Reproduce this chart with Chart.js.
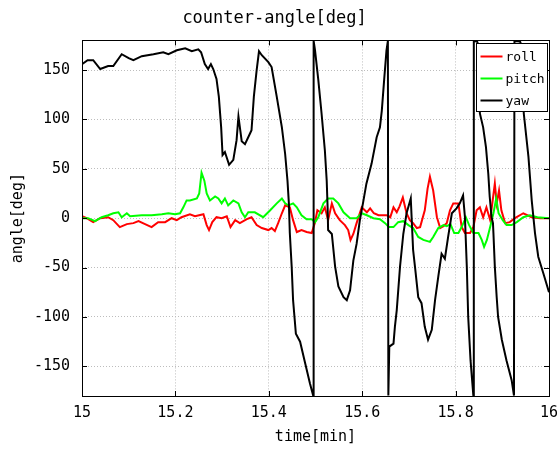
<!DOCTYPE html>
<html>
<head>
<meta charset="utf-8">
<script src="https://cdn.jsdelivr.net/npm/chart.js@4"></script>
<style>
  html, body { margin:0; padding:0; background:#fff; }
  canvas { display:block; }
</style>
</head>
<body>
<canvas id="chart" width="557" height="450"></canvas>
<script>
// ── Data (time in minutes, angles in degrees) ─────────────────
const xTicks = [15, 15.2, 15.4, 15.6, 15.8, 16];
const yTicks = [-150, -100, -50, 0, 50, 100, 150];

const rollT = [15.000,15.010,15.024,15.039,15.056,15.067,15.081,15.096,15.110,15.121,15.135,15.149,15.163,15.178,15.192,15.203,15.213,15.231,15.242,15.260,15.267,15.272,15.279,15.288,15.299,15.310,15.318,15.328,15.338,15.353,15.363,15.374,15.385,15.399,15.406,15.413,15.420,15.428,15.435,15.445,15.452,15.460,15.470,15.481,15.492,15.499,15.504,15.513,15.520,15.527,15.535,15.542,15.552,15.563,15.570,15.575,15.581,15.588,15.599,15.610,15.617,15.625,15.635,15.652,15.660,15.667,15.674,15.680,15.687,15.695,15.702,15.709,15.717,15.724,15.734,15.740,15.745,15.752,15.760,15.767,15.774,15.781,15.788,15.795,15.806,15.813,15.820,15.831,15.838,15.845,15.852,15.859,15.866,15.874,15.884,15.888,15.893,15.898,15.906,15.916,15.927,15.945,15.963,15.981,16.000];
const rollDeg = [2,0,-4,0,1,-2,-9,-6,-5,-3,-6,-9,-4,-4,0,-2,1,4,2,4,-7,-12,-4,1,0,2,-9,-2,-5,-1,1,-7,-10,-12,-10,-13,-5,5,13,11,-2,-14,-12,-14,-15,-4,8,5,11,-2,15,5,-2,-7,-12,-22,-16,-5,11,6,10,5,3,3,1,11,6,12,21,5,-2,-5,-10,-9,8,30,42,28,1,-10,-8,-5,8,15,15,-9,-15,-15,-9,8,11,1,11,-2,35,15,28,8,-5,-4,0,5,1,0,0];

const pitchT = [15.000,15.013,15.028,15.042,15.056,15.067,15.078,15.085,15.096,15.103,15.128,15.149,15.171,15.185,15.199,15.210,15.217,15.224,15.231,15.246,15.251,15.256,15.262,15.267,15.274,15.285,15.292,15.299,15.306,15.313,15.324,15.335,15.342,15.349,15.356,15.370,15.388,15.403,15.417,15.428,15.435,15.442,15.452,15.460,15.470,15.481,15.492,15.499,15.506,15.517,15.527,15.538,15.549,15.560,15.574,15.588,15.599,15.610,15.624,15.638,15.649,15.657,15.667,15.677,15.688,15.699,15.709,15.720,15.731,15.745,15.752,15.763,15.774,15.781,15.789,15.797,15.806,15.813,15.822,15.829,15.838,15.849,15.856,15.861,15.867,15.874,15.881,15.887,15.892,15.901,15.909,15.920,15.931,15.945,15.959,15.975,16.000];
const pitchDeg = [0,0,-3,1,3,5,6,1,5,2,3,3,4,5,4,5,11,18,18,20,25,46,38,25,18,22,20,15,20,13,18,15,6,1,6,6,1,8,15,20,15,13,15,11,3,-1,-1,-4,1,15,20,20,15,6,0,0,5,3,0,-1,-5,-9,-9,-4,-3,-7,-10,-19,-22,-24,-19,-10,-7,-8,-6,-15,-15,-9,1,-7,-15,-15,-22,-29,-22,-9,5,20,5,-2,-7,-7,-4,1,3,1,0];

const yawT = [15.000,15.012,15.024,15.039,15.056,15.067,15.085,15.100,15.110,15.128,15.153,15.174,15.185,15.203,15.221,15.235,15.249,15.255,15.263,15.270,15.276,15.281,15.288,15.293,15.298,15.301,15.306,15.315,15.324,15.331,15.335,15.342,15.349,15.360,15.363,15.368,15.374,15.379,15.385,15.399,15.406,15.417,15.428,15.435,15.440,15.443,15.445,15.449,15.452,15.458,15.467,15.478,15.488,15.495,15.496,15.499,15.506,15.513,15.520,15.524,15.526,15.527,15.535,15.542,15.549,15.560,15.567,15.574,15.581,15.588,15.595,15.602,15.609,15.620,15.631,15.638,15.642,15.647,15.652,15.655,15.656,15.658,15.667,15.670,15.674,15.681,15.688,15.695,15.704,15.709,15.713,15.720,15.727,15.734,15.741,15.749,15.756,15.763,15.770,15.777,15.784,15.792,15.802,15.809,15.816,15.820,15.824,15.827,15.832,15.838,15.839,15.846,15.849,15.852,15.859,15.865,15.870,15.873,15.877,15.880,15.881,15.884,15.888,15.891,15.899,15.909,15.920,15.925,15.926,15.938,15.941,15.946,15.956,15.963,15.970,15.977,15.988,16.000];
const yawDeg = [156,160,160,151,154,154,166,162,160,164,166,168,166,170,172,169,171,168,156,151,156,151,141,123,92,64,67,54,59,79,103,78,75,86,89,123,150,169,165,158,153,123,92,65,38,15,-15,-49,-83,-117,-125,-147,-167,-179.5,179.5,170,140,106,69,38,10,-12,-16,-49,-69,-80,-83,-73,-43,-26,-2,16,35,55,82,92,109,140,170,179.5,-179.5,-130,-127,-110,-93,-49,-16,5,20,-32,-49,-80,-86,-110,-123,-113,-83,-59,-36,-41,-19,5,10,15,23,1,-49,-100,-144,-179.5,179.5,179,175,106,92,72,45,22,1,-5,-15,-49,-80,-100,-123,-144,-164,-179.5,179.5,179,175,106,62,18,-15,-39,-56,-75];

const C = {
  roll:'#ff0000', pitch:'#00ff00', yaw:'#000000',
  grid:'#bdbdbd', axis:'#000000', text:'#000000',
};
const FONT = "'DejaVu Sans Mono', 'Liberation Mono', monospace";

const pts = (t, v) => t.map((x, i) => ({ x, y: v[i] }));

// ── Plugins: MATLAB-style box with inner ticks, and inset legend ──
const boxPlugin = {
  id:'box',
  afterDatasetsDraw(chart) {
    const { ctx, chartArea:a, scales:{ x, y } } = chart;
    ctx.save();
    ctx.strokeStyle = C.axis; ctx.lineWidth = 1;
    ctx.beginPath();
    xTicks.forEach(v => {
      const px = Math.round(x.getPixelForValue(v)) + 0.5;
      ctx.moveTo(px, a.bottom); ctx.lineTo(px, a.bottom - 5);
      ctx.moveTo(px, a.top);    ctx.lineTo(px, a.top + 5);
    });
    yTicks.forEach(v => {
      const py = Math.round(y.getPixelForValue(v)) + 0.5;
      ctx.moveTo(a.left, py);  ctx.lineTo(a.left + 5, py);
      ctx.moveTo(a.right, py); ctx.lineTo(a.right - 5, py);
    });
    ctx.stroke();
    ctx.strokeRect(Math.round(a.left) + 0.5, Math.round(a.top) + 0.5,
                   Math.round(a.right - a.left), Math.round(a.bottom - a.top));
    ctx.restore();
  },
};

const legendPlugin = {
  id:'insetLegend',
  afterDraw(chart) {
    const { ctx, chartArea:a } = chart;
    const w = 71, h = 68;
    const left = Math.round(a.right - 2 - w) + 0.5, top = Math.round(a.top + 3) + 0.5;
    ctx.save();
    ctx.fillStyle = '#fff';
    ctx.fillRect(left, top, w, h);
    ctx.strokeStyle = '#000'; ctx.lineWidth = 1;
    ctx.strokeRect(left, top, w, h);
    ctx.font = `13px ${FONT}`;
    ctx.textBaseline = 'middle';
    chart.data.datasets.forEach((ds, i) => {
      const ry = top + 13 + i * 22;
      ctx.strokeStyle = ds.borderColor; ctx.lineWidth = 2;
      ctx.beginPath(); ctx.moveTo(left + 4, ry); ctx.lineTo(left + 26, ry); ctx.stroke();
      ctx.fillStyle = C.text;
      ctx.fillText(ds.label, left + 29, ry + 1);
    });
    ctx.restore();
  },
};

// ── Chart ─────────────────────────────────────────────────────
new Chart(document.getElementById('chart'), {
  type:'line',
  data:{ datasets:[
    { label:'roll',  data:pts(rollT, rollDeg),   borderColor:C.roll,  borderWidth:2, order:3 },
    { label:'pitch', data:pts(pitchT, pitchDeg), borderColor:C.pitch, borderWidth:2, order:2 },
    { label:'yaw',   data:pts(yawT, yawDeg),     borderColor:C.yaw,   borderWidth:2, order:1 },
  ]},
  options:{
    responsive:false, animation:false,
    parsing:false,
    elements:{ point:{ radius:0 }, line:{ tension:0 } },
    layout:{ padding:{ left:0, right:8, top:0, bottom:0 } },
    plugins:{
      legend:{ display:false }, tooltip:{ enabled:false },
      title:{ display:true, text:'counter-angle[deg]', color:C.text,
        font:{ family:FONT, size:17, weight:'normal' }, padding:{ top:8, bottom:12 } },
    },
    scales:{
      x:{ type:'linear', min:15, max:16,
        afterBuildTicks:s => { s.ticks = xTicks.map(v => ({ value:v })); },
        afterFit:s => { s.height = 54; s.paddingLeft = 0; s.paddingRight = 0; },
        grid:{ color:C.grid, drawTicks:false },
        border:{ display:false, dash:[1,2] },
        ticks:{ color:C.text, padding:8, maxRotation:0, font:{ family:FONT, size:15 },
          callback:v => String(+v.toFixed(1)) },
        title:{ display:true, text:'time[min]', color:C.text,
          font:{ family:FONT, size:15 }, padding:{ top:0, bottom:4 } },
      },
      y:{ type:'linear', min:-180, max:180,
        afterBuildTicks:s => { s.ticks = yTicks.map(v => ({ value:v })); },
        afterFit:s => { s.width = 82; s.paddingTop = 0; s.paddingBottom = 0; },
        grid:{ color:C.grid, drawTicks:false },
        border:{ display:false, dash:[1,2] },
        ticks:{ color:C.text, padding:12, font:{ family:FONT, size:15 } },
        title:{ display:true, text:'angle[deg]', color:C.text,
          font:{ family:FONT, size:15 }, padding:{ top:9, bottom:0 } },
      },
    },
  },
  plugins:[boxPlugin, legendPlugin],
});
</script>
</body>
</html>
